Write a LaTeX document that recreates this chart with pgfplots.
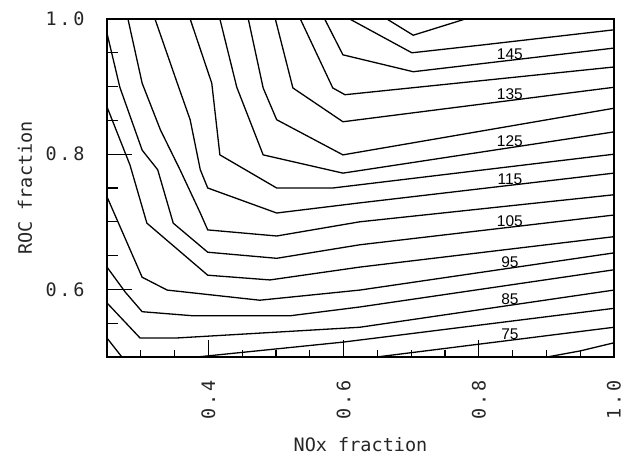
\documentclass[border=0pt]{standalone}
\usepackage{fontspec}
\setmainfont{DejaVu Sans}
\newfontfamily\monofont{DejaVu Sans Mono}
\newfontfamily\tickfont[LetterSpace=15]{DejaVu Sans Mono}
\newfontfamily\labfont{Liberation Sans}
\usepackage{pgfplots}
\pgfplotsset{compat=1.18}
\pgfplotsset{cline/.style={black, line width=1.3pt, no markers}}
\tikzset{clab/.style={font=\labfont\fontsize{15.5}{16}\selectfont, anchor=south, inner sep=0.5pt}}
\begin{document}
\begin{tikzpicture}
\begin{axis}[
  at={(107pt,98pt)}, anchor=south west,
  scale only axis, width=507pt, height=338pt,
  xmin=0.25, xmax=1.0, ymin=0.5, ymax=1.0,
  axis line style={line width=1.3pt},
  tick pos=left, tick align=inside,
  xtick={0.4,0.6,0.8,1.0}, ytick={0.6,0.8,1.0},
  minor xtick={0.3,0.35,0.45,0.5,0.55,0.65,0.7,0.75,0.85,0.9,0.95},
  minor ytick={0.55,0.65,0.7,0.75,0.85,0.9,0.95},
  tick style={line width=1.2pt, black},
  xtick style={/pgfplots/major tick length=17pt, /pgfplots/minor tick length=7pt},
  ytick style={/pgfplots/major tick length=25pt, /pgfplots/minor tick length=11pt},
  /pgf/number format/assume math mode=true,
  /pgf/number format/.cd, fixed, fixed zerofill, precision=1, /pgfplots/.cd,
  tick label style={font=\tickfont\fontsize{18.5}{19}\selectfont, text=black!85},
  xticklabel style={rotate=90, anchor=east},
  xticklabel shift=20pt,
  yticklabel style={anchor=east},
  yticklabel shift=19pt,
  xlabel={NOx fraction}, ylabel={ROC fraction},
  every axis x label/.style={at={(axis description cs:0.5,-0.26)}, anchor=center,
    font=\monofont\fontsize{18.5}{19}\selectfont, text=black!85},
  every axis y label/.style={at={(axis description cs:-0.162,0.5)}, anchor=center, rotate=90,
    font=\monofont\fontsize{18.5}{19}\selectfont, text=black!85},
]
% level 155
\addplot[cline] coordinates {(0.664,1.0) (0.703,0.976) (0.780,1.0)};
% level 150
\addplot[cline] coordinates {(0.609,1.0) (0.701,0.950) (0.8,0.961) (1.0,0.984)};
% level 145
\addplot[cline] coordinates {(0.572,1.0) (0.599,0.947) (0.703,0.922) (1.0,0.957)};
% level 140
\addplot[cline] coordinates {(0.536,1.0) (0.584,0.898) (0.602,0.888) (1.0,0.929)};
% level 135
\addplot[cline] coordinates {(0.499,1.0) (0.525,0.898) (0.599,0.848) (1.0,0.899)};
% level 130
\addplot[cline] coordinates {(0.459,1.0) (0.481,0.898) (0.501,0.851) (0.599,0.799) (1.0,0.868)};
% level 125
\addplot[cline] coordinates {(0.417,1.0) (0.442,0.899) (0.481,0.799) (0.599,0.772) (1.0,0.833)};
% level 120
\addplot[cline] coordinates {(0.373,1.0) (0.405,0.905) (0.417,0.799) (0.501,0.750) (0.584,0.750) (1.0,0.800)};
% level 115
\addplot[cline] coordinates {(0.321,1.0) (0.354,0.905) (0.373,0.851) (0.388,0.777) (0.399,0.750) (0.501,0.713) (0.624,0.728) (1.0,0.772)};
% level 110
\addplot[cline] coordinates {(0.281,1.0) (0.302,0.905) (0.329,0.836) (0.358,0.777) (0.388,0.713) (0.399,0.688) (0.501,0.679) (0.624,0.700) (1.0,0.740)};
% level 105
\addplot[cline] coordinates {(0.25,0.979) (0.269,0.899) (0.302,0.806) (0.325,0.777) (0.348,0.698) (0.399,0.655) (0.501,0.646) (0.624,0.666) (1.0,0.710)};
% level 100
\addplot[cline] coordinates {(0.25,0.870) (0.284,0.784) (0.309,0.698) (0.399,0.621) (0.491,0.614) (0.624,0.633) (1.0,0.678)};
% level 95
\addplot[cline] coordinates {(0.25,0.737) (0.302,0.618) (0.339,0.599) (0.476,0.584) (0.624,0.599) (1.0,0.654)};
% level 90
\addplot[cline] coordinates {(0.25,0.633) (0.277,0.596) (0.302,0.567) (0.377,0.561) (0.521,0.561) (0.624,0.574) (1.0,0.629)};
% level 85
\addplot[cline] coordinates {(0.25,0.580) (0.299,0.528) (0.351,0.528) (0.624,0.544) (1.0,0.599)};
% level 80
\addplot[cline] coordinates {(0.25,0.528) (0.272,0.5)};
\addplot[cline] coordinates {(0.383,0.5) (0.599,0.522) (1.0,0.572)};
% level 75
\addplot[cline] coordinates {(0.649,0.5) (1.0,0.544)};
% level 70
\addplot[cline] coordinates {(0.901,0.5) (0.950,0.509) (1.0,0.521)};
% contour labels
\node[clab] at (axis cs:0.846,0.939) {145};
\node[clab] at (axis cs:0.846,0.879) {135};
\node[clab] at (axis cs:0.846,0.810) {125};
\node[clab] at (axis cs:0.846,0.754) {115};
\node[clab] at (axis cs:0.846,0.692) {105};
\node[clab] at (axis cs:0.846,0.631) {95};
\node[clab] at (axis cs:0.846,0.576) {85};
\node[clab] at (axis cs:0.846,0.525) {75};
\end{axis}
\pgfresetboundingbox
\path (0,0) rectangle (624pt,455pt);
\end{tikzpicture}
\end{document}
